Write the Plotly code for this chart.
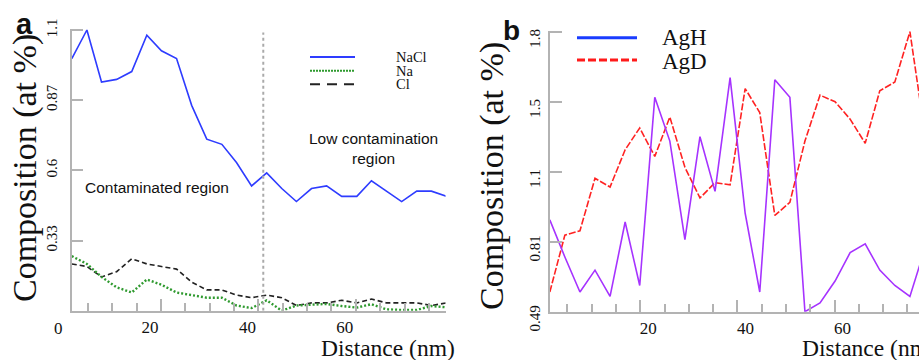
import plotly.graph_objects as go

# ---------------- data ----------------
dist_a = [1.7, 4.8, 7.8, 10.9, 14.0, 17.1, 20.1, 23.2, 26.3, 29.4, 32.5, 35.5, 38.6,
          41.7, 44.8, 47.8, 50.9, 54.0, 57.1, 60.2, 63.2, 66.3, 69.4, 72.5, 75.5, 78.6]
nacl = [1.03, 1.14, 0.94, 0.95, 0.98, 1.12, 1.06, 1.03, 0.85, 0.72, 0.70, 0.63, 0.54,
        0.59, 0.53, 0.48, 0.53, 0.54, 0.50, 0.50, 0.56, 0.52, 0.48, 0.52, 0.52, 0.50]
na = [0.27, 0.24, 0.19, 0.15, 0.13, 0.18, 0.16, 0.13, 0.12, 0.11, 0.11, 0.08, 0.07,
      0.10, 0.06, 0.08, 0.083, 0.086, 0.078, 0.072, 0.085, 0.065, 0.063, 0.063, 0.078, 0.073]
cl = [0.24, 0.23, 0.19, 0.21, 0.26, 0.24, 0.23, 0.22, 0.17, 0.14, 0.14, 0.12, 0.11,
      0.12, 0.11, 0.08, 0.09, 0.09, 0.10, 0.09, 0.105, 0.09, 0.09, 0.09, 0.08, 0.09]

dist_b = [1.4, 4.5, 7.6, 10.7, 13.8, 16.9, 19.9, 23.0, 26.1, 29.2, 32.3, 35.4, 38.5,
          41.6, 44.6, 47.7, 50.8, 53.9, 57.0, 60.1, 63.2, 66.3, 69.3, 72.4, 75.5, 78.6]
agh = [0.91, 0.74, 0.58, 0.68, 0.56, 0.90, 0.61, 1.47, 1.27, 0.82, 1.29, 1.04, 1.56,
       0.94, 0.58, 1.55, 1.47, 0.49, 0.53, 0.63, 0.76, 0.80, 0.68, 0.61, 0.56, 0.78]
agd = [0.58, 0.84, 0.86, 1.10, 1.06, 1.23, 1.33, 1.20, 1.38, 1.15, 1.01, 1.08, 1.07,
       1.51, 1.40, 0.93, 0.99, 1.27, 1.48, 1.45, 1.37, 1.26, 1.50, 1.54, 1.77, 1.30]

ytick_a_vals = [0.33, 0.6, 0.87, 1.14]
ytick_a_text = ["0.33", "0.6", "0.87", "1.1"]
ytick_b_vals = [0.49, 0.81, 1.13, 1.45, 1.77]
ytick_b_text = ["0.49", "0.81", "1.1", "1.5", "1.8"]
xtick_vals = [20, 40, 60]
xtick_text = ["20", "40", "60"]
xminor_vals = [5, 10, 15, 25, 30, 35, 45, 50, 55, 65, 70, 75]
boundary_nm = 41.0

# ---------------- layout helpers ----------------
W, H = 919, 360
def px(x):
    return x / W
def py(y):
    return 1 - y / H

SERIF = "Liberation Serif, Times New Roman, serif"
SANS = "Liberation Sans, Arial, sans-serif"
AX = "#b3b3b3"

fig = go.Figure()

fig.add_trace(go.Scatter(x=dist_a, y=nacl, mode="lines", name="NaCl", showlegend=False,
                         line=dict(color="#2e3cff", width=1.6), xaxis="x", yaxis="y"))
fig.add_trace(go.Scatter(x=dist_a, y=cl, mode="lines", name="Cl", showlegend=False,
                         line=dict(color="#222222", width=1.6, dash="5px,3px"), xaxis="x", yaxis="y"))
fig.add_trace(go.Scatter(x=dist_a, y=na, mode="lines", name="Na", showlegend=False,
                         line=dict(color="#2f9a2f", width=2.4, dash="2px,2px"), xaxis="x", yaxis="y"))

fig.add_trace(go.Scatter(x=dist_b, y=agd, mode="lines", name="AgD", showlegend=False,
                         line=dict(color="#ff2222", width=1.6, dash="7px,2px"), xaxis="x2", yaxis="y2"))
fig.add_trace(go.Scatter(x=dist_b, y=agh, mode="lines", name="AgH", showlegend=False,
                         line=dict(color="#a633ff", width=1.6), xaxis="x2", yaxis="y2"))

common_x = dict(showgrid=False, zeroline=False, showline=True, linecolor=AX, linewidth=1.5,
                automargin=False,
                ticks="inside", ticklen=12, tickwidth=1.5, tickcolor=AX,
                tickvals=xtick_vals, ticktext=xtick_text,
                tickfont=dict(family=SERIF, size=17, color="#111"),
                minor=dict(tickvals=xminor_vals, ticks="inside", ticklen=8,
                           tickwidth=1.5, tickcolor=AX))
common_y = dict(showgrid=False, zeroline=False, showline=True, linecolor=AX, linewidth=1.5,
                automargin=False,
                ticks="inside", ticklen=12, tickwidth=1.5, tickcolor=AX, tickangle=-90,
                tickfont=dict(family=SERIF, size=15, color="#111"))

fig.update_layout(
    width=W, height=H, margin=dict(l=0, r=0, t=0, b=0, autoexpand=False),
    paper_bgcolor="white", plot_bgcolor="white", showlegend=False,
    xaxis=dict(domain=[px(71.7), px(445.5)], range=[1.68, 78.4], anchor="y",
               ticklabelshift=-11, **common_x),
    yaxis=dict(domain=[py(310.7), py(28.7)], range=[0.06, 1.145], anchor="x",
               tickvals=ytick_a_vals, ticktext=ytick_a_text, ticklabelstandoff=7, **common_y),
    xaxis2=dict(domain=[px(550), 1.0], range=[1.44, 77.37], anchor="y2",
                ticklabelshift=8, **common_x),
    yaxis2=dict(domain=[py(311.7), py(30.6)], range=[0.49, 1.775], anchor="x2",
                tickvals=ytick_b_vals, ticktext=ytick_b_text, ticklabelshift=9,
                ticklabelstandoff=2, **common_y),
)

shapes = [
    dict(type="line", xref="x", yref="y", x0=boundary_nm, x1=boundary_nm, y0=0.06, y1=1.13,
         line=dict(color="#aaaaaa", width=2, dash="dot")),
    # legend panel a
    dict(type="line", xref="paper", yref="paper", x0=px(310), x1=px(355), y0=py(57), y1=py(57),
         line=dict(color="#2e3cff", width=2)),
    dict(type="line", xref="paper", yref="paper", x0=px(310), x1=px(355), y0=py(70.7), y1=py(70.7),
         line=dict(color="#2f9a2f", width=2, dash="2px,1px")),
    dict(type="line", xref="paper", yref="paper", x0=px(310), x1=px(355), y0=py(84.3), y1=py(84.3),
         line=dict(color="#222222", width=2, dash="10px,7px")),
    # legend panel b
    dict(type="line", xref="paper", yref="paper", x0=px(577), x1=px(637), y0=py(37.7), y1=py(37.7),
         line=dict(color="#1a3cff", width=3)),
    dict(type="line", xref="paper", yref="paper", x0=px(577), x1=px(637), y0=py(60), y1=py(60),
         line=dict(color="#ff1a1a", width=3, dash="8px,3px")),
]
fig.update_layout(shapes=shapes)

def ann(text, x, y, size, family, xanchor="center", yanchor="middle", angle=0, bold=False):
    return dict(text=("<b>%s</b>" % text) if bold else text, x=px(x), y=py(y),
                xref="paper", yref="paper", showarrow=False, xanchor=xanchor, yanchor=yanchor,
                textangle=angle, font=dict(family=family, size=size, color="#111"))

annotations = [
    ann("a", 24, 24, 29, SANS, bold=True),
    ann("b", 511, 30, 28, SANS, bold=True),
    ann("Composition (at %)", 25, 168, 34, SERIF, angle=-90),
    ann("Composition (at %)", 492, 176, 34, SERIF, angle=-90),
    ann("Distance (nm)", 457, 348, 23.5, SERIF, xanchor="right"),
    ann("Distance (nm)", 800, 348, 23.5, SERIF, xanchor="left"),
    ann("0", 58, 328, 17, SERIF),
    ann("Contaminated region", 156.5, 187, 15.5, SANS),
    ann("Low contamination<br>region", 373, 148, 15.5, SANS),
    ann("NaCl", 394, 57, 14.5, SERIF, xanchor="left"),
    ann("Na", 394, 70.7, 14.5, SERIF, xanchor="left"),
    ann("Cl", 394, 84.3, 14.5, SERIF, xanchor="left"),
    ann("AgH", 660, 38, 23, SERIF, xanchor="left"),
    ann("AgD", 660, 61, 23, SERIF, xanchor="left"),
]
fig.update_layout(annotations=annotations)

fig.write_html("out.html", config={"displayModeBar": False},
               post_script="document.body.style.margin='0';")
